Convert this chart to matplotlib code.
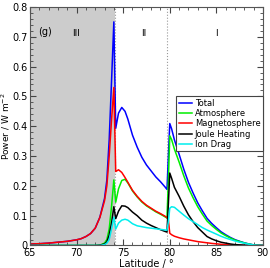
import matplotlib
matplotlib.use('Agg')
import matplotlib.pyplot as plt
from matplotlib.ticker import MultipleLocator

# latitude grid (deg) shared by all series
lat = [65, 66, 67, 68, 69, 70, 70.5, 71, 71.5, 72, 72.5, 73, 73.25, 73.5, 73.75, 74.0,
       74.2, 74.5, 74.85, 75.2, 75.5, 76, 76.5, 77, 77.5, 78, 78.5, 79, 79.5, 79.7,
       79.85, 80.0, 80.2, 80.5, 81, 81.5, 82, 82.5, 83, 83.5, 84, 84.5, 85, 85.5,
       86, 86.5, 87, 87.5, 88, 88.5, 89, 89.5, 90]

total = [0.005, 0.006, 0.008, 0.011, 0.014, 0.019, 0.023, 0.030, 0.040, 0.058, 0.095, 0.158, 0.22, 0.355, 0.55, 0.75,
         0.393, 0.444, 0.463, 0.45, 0.424, 0.37, 0.33, 0.296, 0.27, 0.25, 0.23, 0.214, 0.196, 0.188,
         0.30, 0.409, 0.391, 0.354, 0.306, 0.256, 0.212, 0.176, 0.143, 0.116, 0.091, 0.074, 0.0595, 0.046,
         0.036, 0.027, 0.0195, 0.014, 0.009, 0.005, 0.002, 0.0005, 0.0]

atmosphere = [0, 0, 0, 0, 0, 0, 0, 0, 0, 0, 0.001, 0.008, 0.02, 0.055, 0.13, 0.22,
              0.145, 0.19, 0.218, 0.222, 0.21, 0.183, 0.163, 0.146, 0.133, 0.123, 0.113, 0.105, 0.096, 0.092,
              0.22, 0.368, 0.355, 0.323, 0.28, 0.234, 0.193, 0.16, 0.13, 0.105, 0.082, 0.067, 0.054, 0.042,
              0.033, 0.025, 0.018, 0.013, 0.0085, 0.0047, 0.0019, 0.0005, 0.0]

magnetosphere = [0.005, 0.006, 0.008, 0.011, 0.014, 0.019, 0.023, 0.030, 0.040, 0.058, 0.094, 0.15, 0.2, 0.3, 0.42, 0.53,
                 0.248, 0.254, 0.245, 0.228, 0.212, 0.185, 0.165, 0.148, 0.135, 0.125, 0.115, 0.107, 0.098, 0.094,
                 0.085, 0.041, 0.036, 0.031, 0.026, 0.022, 0.019, 0.016, 0.013, 0.011, 0.009, 0.007, 0.0055, 0.004,
                 0.003, 0.002, 0.0015, 0.001, 0.0005, 0.0003, 0.0001, 0.0, 0.0]

joule = [0, 0, 0, 0, 0, 0, 0, 0, 0, 0, 0.001, 0.005, 0.012, 0.035, 0.075, 0.13,
         0.09, 0.115, 0.133, 0.132, 0.127, 0.112, 0.1, 0.085, 0.075, 0.067, 0.06, 0.053, 0.047, 0.045,
         0.14, 0.243, 0.225, 0.195, 0.165, 0.132, 0.103, 0.08, 0.06, 0.045, 0.03, 0.022, 0.016, 0.011,
         0.008, 0.005, 0.003, 0.002, 0.001, 0.0005, 0.0002, 0.0, 0.0]

ion_drag = [0, 0, 0, 0, 0, 0, 0, 0, 0, 0, 0.0, 0.003, 0.008, 0.02, 0.055, 0.095,
            0.055, 0.075, 0.085, 0.088, 0.085, 0.073, 0.066, 0.063, 0.06, 0.058, 0.056, 0.054, 0.052, 0.051,
            0.08, 0.125, 0.13, 0.128, 0.115, 0.102, 0.09, 0.08, 0.07, 0.06, 0.052, 0.045, 0.038, 0.031,
            0.025, 0.02, 0.015, 0.011, 0.0075, 0.0042, 0.0017, 0.0005, 0.0]

region_labels = ['III', 'II', 'I']
region_x = [69.9, 77.2, 85.0]
boundaries = [74.15, 79.75]

plt.rcParams['font.family'] = 'DejaVu Sans'
plt.rcParams['font.size'] = 7

fig = plt.figure(figsize=(2.70, 2.68), dpi=100)
ax = fig.add_axes([0.111, 0.084, 0.863, 0.89])

ax.axvspan(65, boundaries[0], color='#cccccc', lw=0, zorder=0)
for b in boundaries:
    ax.axvline(b, color='#999999', ls=':', lw=0.8, zorder=1)

ax.plot(lat, total, color='#0000ff', lw=1.1, label='Total')
ax.plot(lat, atmosphere, color='#00ee00', lw=1.1, label='Atmosphere')
ax.plot(lat, magnetosphere, color='#ff0000', lw=1.1, label='Magnetosphere')
ax.plot(lat, joule, color='black', lw=1.1, label='Joule Heating')
ax.plot(lat, ion_drag, color='#00eeee', lw=1.1, label='Ion Drag')

ax.text(66.6, 0.715, '(g)', ha='center', va='center', fontsize=7)
for lab, x in zip(region_labels, region_x):
    ax.text(x, 0.71, lab, ha='center', va='center', fontsize=6.5)

ax.set_xlim(65, 90)
ax.set_ylim(0, 0.8)
ax.xaxis.set_major_locator(MultipleLocator(5))
ax.xaxis.set_minor_locator(MultipleLocator(1))
ax.yaxis.set_major_locator(MultipleLocator(0.1))
ax.yaxis.set_minor_locator(MultipleLocator(0.02))
ax.yaxis.set_major_formatter(plt.FuncFormatter(lambda v, p: '0' if abs(v) < 1e-9 else '%.1f' % v))
ax.tick_params(which='both', direction='in', top=True, right=True, color='#444444', pad=1.5)
ax.tick_params(which='major', length=4)
ax.tick_params(which='minor', length=2)
for s in ax.spines.values():
    s.set_color('#555555')

ax.set_xlabel('Latitude / °', labelpad=1)
ax.set_ylabel('Power / W m$^{-2}$', fontsize=6.5)
ax.yaxis.set_label_coords(-0.076, 0.5)

leg = ax.legend(loc='upper right', bbox_to_anchor=(1.0, 0.625), fontsize=6, handlelength=1.6,
                handletextpad=0.3, borderpad=0.3, labelspacing=0.15, borderaxespad=0,
                fancybox=False, framealpha=1)
leg.get_frame().set_edgecolor('#444444')
leg.get_frame().set_linewidth(0.8)

fig.savefig('out.png', dpi=100)
